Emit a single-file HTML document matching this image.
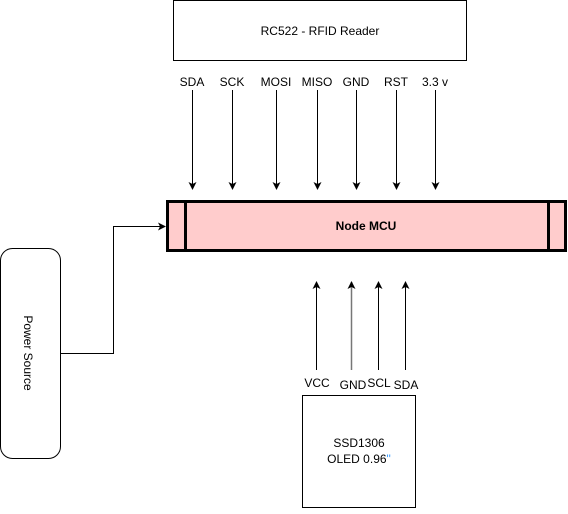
<!DOCTYPE html>
<html><head><style>body{margin:0;background:#fff}</style></head><body>
<svg width="568" height="509" xmlns="http://www.w3.org/2000/svg" font-family="Liberation Sans, sans-serif" font-size="12">
<defs><marker id="a" markerWidth="8" markerHeight="8" refX="7" refY="4" orient="auto" markerUnits="userSpaceOnUse"><path d="M0,0 L8,4 L0,8 L2,4 z" fill="#000"/></marker></defs>
<rect x="173.5" y="0.5" width="293" height="60" fill="#fff" stroke="#000"/>
<text x="320" y="35" text-anchor="middle">RC522 - RFID Reader</text>
<g text-anchor="middle">
<text x="192" y="86">SDA</text><text x="232" y="86">SCK</text><text x="276" y="86">MOSI</text><text x="317" y="86">MISO</text><text x="356" y="86">GND</text><text x="396" y="86">RST</text><text x="435" y="86">3.3 v</text>
</g>
<g stroke="#000" marker-end="url(#a)">
<line x1="192.5" y1="90" x2="192.5" y2="189"/><line x1="232.5" y1="90" x2="232.5" y2="189"/><line x1="276.5" y1="90" x2="276.5" y2="189"/><line x1="317.5" y1="90" x2="317.5" y2="189"/><line x1="356.5" y1="90" x2="356.5" y2="189"/><line x1="396.5" y1="90" x2="396.5" y2="189"/><line x1="435.5" y1="90" x2="435.5" y2="189"/>
</g>
<rect x="167.5" y="201.5" width="398" height="49" fill="#ffcccc" stroke="#000" stroke-width="3"/>
<line x1="185.5" y1="201" x2="185.5" y2="251" stroke="#000" stroke-width="3"/>
<line x1="548.5" y1="201" x2="548.5" y2="251" stroke="#000" stroke-width="3"/>
<text x="366" y="230" text-anchor="middle" font-weight="bold">Node MCU</text>
<rect x="0.5" y="248.5" width="60" height="210" rx="12" fill="#fff" stroke="#000"/>
<text transform="translate(24,353) rotate(90)" text-anchor="middle">Power Source</text>
<polyline points="61,353.5 113.5,353.5 113.5,226.5 165,226.5" fill="none" stroke="#000" marker-end="url(#a)"/>
<g marker-end="url(#a)">
<line x1="316.5" y1="370" x2="316.5" y2="282" stroke="#000"/>
<line x1="351.5" y1="370" x2="351.5" y2="282" stroke="#777" stroke-width="1.5"/>
<line x1="378.5" y1="370" x2="378.5" y2="282" stroke="#000"/>
<line x1="405.5" y1="370" x2="405.5" y2="282" stroke="#000"/>
</g>
<text x="317" y="387" text-anchor="middle">VCC</text>
<text x="353" y="389" text-anchor="middle">GND</text>
<text x="379" y="387" text-anchor="middle">SCL</text>
<text x="406" y="389" text-anchor="middle">SDA</text>
<rect x="302.5" y="395.5" width="113" height="112" fill="#fff" stroke="#000"/>
<text x="359" y="447" text-anchor="middle">SSD1306</text>
<text x="359" y="463" text-anchor="middle">OLED 0.96<tspan fill="#39f">"</tspan></text>
</svg>
</body></html>
